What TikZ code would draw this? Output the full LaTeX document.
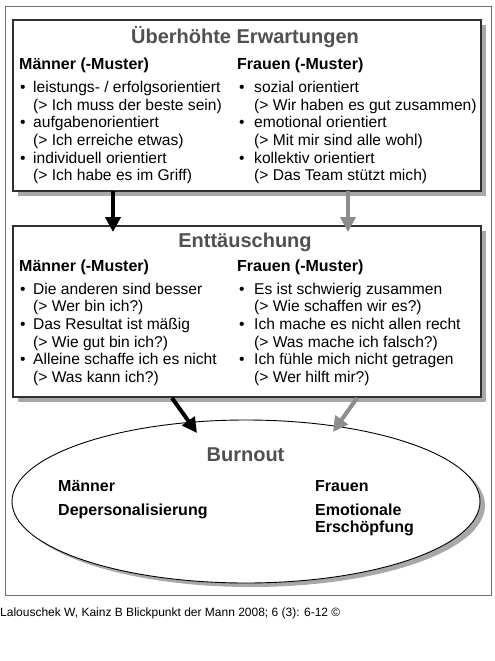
\documentclass[tikz,border=0pt]{standalone}
\usepackage{fontspec}
\setmainfont{Liberation Sans}
\usetikzlibrary{arrows.meta,shadows,shapes.geometric}
\definecolor{titlegray}{HTML}{505050}
\definecolor{arrowgray}{HTML}{8C8C8C}
\definecolor{shadowgray}{HTML}{A8A8A8}
\definecolor{boxline}{HTML}{303030}
\definecolor{framegray}{HTML}{707070}
\tikzset{
  panel/.style={draw=boxline, line width=1.2pt, fill=white, rectangle, inner sep=0pt,
    minimum width=468pt, minimum height=171pt,
    drop shadow={shadow xshift=5pt, shadow yshift=-5pt, fill=shadowgray, opacity=1}},
  oval/.style={draw=black, line width=0.9pt, fill=white, ellipse, inner sep=0pt,
    minimum width=468pt, minimum height=163pt,
    drop shadow={shadow xshift=5pt, shadow yshift=-4pt, fill=shadowgray, opacity=1}},
  ttl/.style={anchor=base, inner sep=0pt, text=titlegray, font=\fontsize{20}{22}\selectfont\bfseries},
  hdr/.style={anchor=base west, inner sep=0pt, font=\fontsize{16}{18}\selectfont\bfseries},
  txt/.style={anchor=base west, inner sep=0pt, font=\fontsize{15.6}{17.6}\selectfont},
  captxt/.style={anchor=base west, inner sep=0pt, font=\fontsize{12}{14}\selectfont},
  blackarrow/.style={draw=black, line width=4pt, -{Triangle[width=15pt,length=15pt]}},
  grayarrow/.style={draw=arrowgray, line width=4pt, -{Triangle[width=15pt,length=15pt]}}
}
\newcommand\bulpt[3]{\node[txt] (#1) at (#2,#3) {•};}
\newcommand\txtline[4]{\node[txt] (#1) at (#2,#3) {#4};}
\begin{document}
\begin{tikzpicture}[x=1pt,y=-1pt]
\useasboundingbox (0,0) rectangle (495,661);
% outer frame
\node[draw=framegray, line width=1pt, rectangle, inner sep=0pt, minimum width=486pt, minimum height=588pt] (frame) at (248,301) {};
% boxes
\node[panel] (top) at (247,105.5) {};
\node[panel] (mid) at (247,311.5) {};
\node[oval] (burn) at (246,501.5) {};

% top box text
\node[ttl] (t0) at (245,43.3) {Überhöhte Erwartungen};
\node[hdr] (t1) at (19,69.3) {Männer (-Muster)};
\node[hdr] (t2) at (237,69.3) {Frauen (-Muster)};
\bulpt{ta1}{20}{92.7}\txtline{ta2}{33}{92.7}{leistungs- / erfolgsorientiert}
\txtline{ta3}{33}{110.3}{(> Ich muss der beste sein)}
\bulpt{ta4}{20}{127.9}\txtline{ta5}{33}{127.9}{aufgabenorientiert}
\txtline{ta6}{33}{145.5}{(> Ich erreiche etwas)}
\bulpt{ta7}{20}{163.1}\txtline{ta8}{33}{163.1}{individuell orientiert}
\txtline{ta9}{33}{180.7}{(> Ich habe es im Griff)}
\bulpt{tb1}{239}{92.7}\txtline{tb2}{254}{92.7}{sozial orientiert}
\txtline{tb3}{254}{110.3}{(> Wir haben es gut zusammen)}
\bulpt{tb4}{239}{127.9}\txtline{tb5}{254}{127.9}{emotional orientiert}
\txtline{tb6}{254}{145.5}{(> Mit mir sind alle wohl)}
\bulpt{tb7}{239}{163.1}\txtline{tb8}{254}{163.1}{kollektiv orientiert}
\txtline{tb9}{254}{180.7}{(> Das Team stützt mich)}

% middle box text
\node[ttl] (m0) at (245,247.7) {Enttäuschung};
\node[hdr] (m1) at (19,271.7) {Männer (-Muster)};
\node[hdr] (m2) at (237,271.7) {Frauen (-Muster)};
\bulpt{ma1}{20}{294.3}\txtline{ma2}{33}{294.3}{Die anderen sind besser}
\txtline{ma3}{33}{311.9}{(> Wer bin ich?)}
\bulpt{ma4}{20}{329.5}\txtline{ma5}{33}{329.5}{Das Resultat ist mäßig}
\txtline{ma6}{33}{347.1}{(> Wie gut bin ich?)}
\bulpt{ma7}{20}{364.7}\txtline{ma8}{33}{364.7}{Alleine schaffe ich es nicht}
\txtline{ma9}{33}{382.3}{(> Was kann ich?)}
\bulpt{mb1}{239}{294.3}\txtline{mb2}{254}{294.3}{Es ist schwierig zusammen}
\txtline{mb3}{254}{311.9}{(> Wie schaffen wir es?)}
\bulpt{mb4}{239}{329.5}\txtline{mb5}{254}{329.5}{Ich mache es nicht allen recht}
\txtline{mb6}{254}{347.1}{(> Was mache ich falsch?)}
\bulpt{mb7}{239}{364.7}\txtline{mb8}{254}{364.7}{Ich fühle mich nicht getragen}
\txtline{mb9}{254}{382.3}{(> Wer hilft mir?)}

% ellipse text
\node[ttl] (b0) at (245.5,461.7) {Burnout};
\node[hdr] (b1) at (58,491.7) {Männer};
\node[hdr] (b2) at (58,515) {Depersonalisierung};
\node[hdr] (b3) at (315,491.7) {Frauen};
\node[hdr] (b4) at (315,515) {Emotionale};
\node[hdr] (b5) at (315,532.7) {Erschöpfung};

% arrows
\coordinate (a1s) at (113,191);
\coordinate (a1e) at (113,232);
\coordinate (a2s) at (348,191);
\coordinate (a2e) at (348,232);
\coordinate (a3s) at (172,398);
\coordinate (a3e) at (197,433);
\coordinate (a4s) at (357,398);
\coordinate (a4e) at (333,432);
\draw[blackarrow] (a1s) -- (a1e);
\draw[grayarrow] (a2s) -- (a2e);
\draw[blackarrow] (a3s) -- (a3e);
\draw[grayarrow] (a4s) -- (a4e);

% caption
\node[captxt] (c0) at (0,616) {Lalouschek W, Kainz B Blickpunkt der Mann 2008; 6 (3): 6-12 ©};
\end{tikzpicture}
\end{document}
